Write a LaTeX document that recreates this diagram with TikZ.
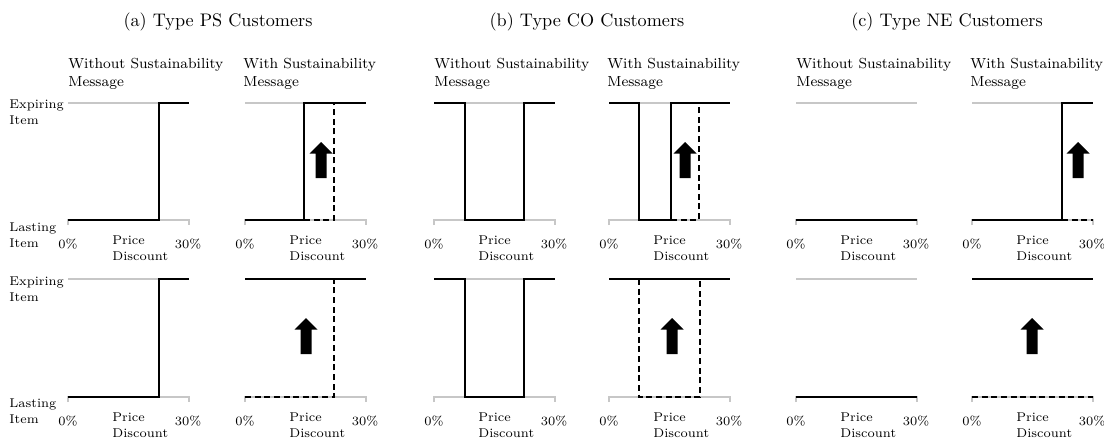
\documentclass[tikz,border=0pt]{standalone}
\usetikzlibrary{positioning}

\begin{document}
\begin{tikzpicture}[
  x=0.55pt, y=-0.55pt,
  axis/.style={draw=black!22,line width=0.8pt},
  resp/.style={line width=1.3pt},
  shifted/.style={line width=1.3pt,dash pattern=on 3.3pt off 2pt},
  hdr/.style={font=\footnotesize,align=left,inner sep=0pt,anchor=west},
  tick/.style={font=\fontsize{7}{9}\selectfont,inner sep=0pt},
  side/.style={font=\fontsize{7}{9}\selectfont,align=left,inner sep=0pt,anchor=west},
  fatarrow/.pic={\fill (0,-18) -- (11.5,-6.5) -- (5.5,-6.5) -- (5.5,18) -- (-5.5,18) -- (-5.5,-6.5) -- (-11.5,-6.5) -- cycle;}]
\useasboundingbox (0,0) rectangle (1104,439);

% panel titles
\node[inner sep=0pt] (ta) at (218,22) {(a) Type PS Customers};
\node[inner sep=0pt] (tb) at (587,22) {(b) Type CO Customers};
\node[inner sep=0pt] (tc) at (947,22) {(c) Type NE Customers};

% column headers
\foreach \px [count=\c] in {68,434,796}
  \node[hdr] (wo\c) at (\px,74) {Without Sustainability\\Message};
\foreach \px [count=\c] in {245,609,972}
  \node[hdr] (wi\c) at (\px-2,74) {With Sustainability\\Message};

% choice labels
\node[side] (exp1) at (9,112) {Expiring\\Item};
\node[side] (las1) at (9,235) {Lasting\\Item};
\node[side] (exp2) at (9,289) {Expiring\\Item};
\node[side] (las2) at (9,411) {Lasting\\Item};

% axes of all twelve plots
\foreach \px [count=\c] in {68,245,434,609,796,972}{
  \foreach \ty/\ly [count=\r] in {103/220,279/397}{
    \draw[axis] (\px,\ty) -- (\px+121,\ty);
    \draw[axis] (\px,\ly+5) -- (\px,\ly) -- (\px+121,\ly) -- (\px+121,\ly+5);
    \node[tick] (lo\c\r) at (\px,\ly+24) {0\%};
    \node[tick] (hi\c\r) at (\px+120,\ly+24) {30\%};
    \node[side] (pd\c\r) at (\px+44,\ly+28) {Price\\Discount};
  }
}

% (a) type PS
\foreach \ty/\ly in {103/220,279/397}
  \draw[resp] (68,\ly) -| (159,\ty) -- (189,\ty);
\draw[shifted] (304,220) -| (334,103) -- (366,103);
\draw[resp] (245,220) -| (304,103) -- (366,103);
\pic (upa1) at (321,160) {fatarrow};
\draw[shifted] (245,397) -| (334,279);
\draw[resp] (245,279) -- (366,279);
\pic (upa2) at (306,336) {fatarrow};

% (b) type CO
\foreach \ty/\ly in {103/220,279/397}
  \draw[resp] (434,\ty) -| (465,\ly) -| (524,\ty) -- (555,\ty);
\draw[shifted] (671,220) -| (699,103);
\draw[resp] (609,103) -| (639,220) -| (671,103) -- (730,103);
\pic (upb1) at (685,160) {fatarrow};
\draw[shifted] (639,279) |- (700,397) -- (700,279);
\draw[resp] (609,279) -- (730,279);
\pic (upb2) at (672,336) {fatarrow};

% (c) type NE
\foreach \ly in {220,397}
  \draw[resp] (796,\ly) -- (917,\ly);
\draw[shifted] (1062,220) -- (1093,220);
\draw[resp] (972,220) -| (1062,103) -- (1093,103);
\pic (upc1) at (1078,160) {fatarrow};
\draw[shifted] (972,397) -- (1093,397);
\draw[resp] (972,279) -- (1093,279);
\pic (upc2) at (1032,336) {fatarrow};
\end{tikzpicture}
\end{document}
